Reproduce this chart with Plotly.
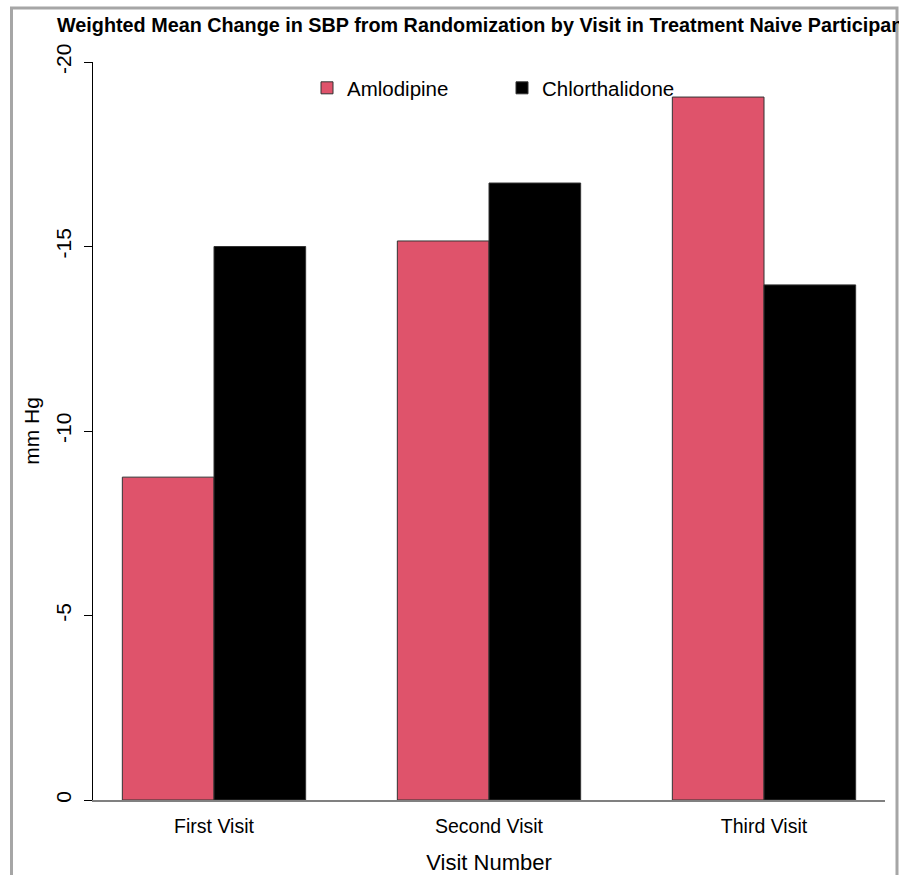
import plotly.graph_objects as go

categories = ["First Visit", "Second Visit", "Third Visit"]
amlodipine = [-8.75, -15.15, -19.05]
chlorthalidone = [-15.0, -16.72, -13.96]
y_ticks = [0, -5, -10, -15, -20]
y_tick_labels = ["0", "-5", "-10", "-15", "-20"]

FONT = "Liberation Sans, Arial, sans-serif"
W, H = 899, 875
L, R, T, B = 93, 885, 62, 800

fig = go.Figure()
fig.add_trace(go.Bar(x=categories, y=amlodipine, name="Amlodipine",
                     marker=dict(color="#DF536B", line=dict(color="#333333", width=1))))
fig.add_trace(go.Bar(x=categories, y=chlorthalidone, name="Chlorthalidone",
                     marker=dict(color="#000000", line=dict(color="#333333", width=1))))

def px_x(x):
    return (x - L) / (R - L)

def px_y(y):
    return (B - y) / (B - T)

fig.update_layout(
    width=W, height=H,
    margin=dict(l=L, r=W - R, t=T, b=H - B, pad=0, autoexpand=False),
    paper_bgcolor="white", plot_bgcolor="white",
    barmode="group", bargap=1/3, bargroupgap=0,
    font=dict(family=FONT, color="black"),
    title=dict(text="<b>Weighted Mean Change in SBP from Randomization by Visit in Treatment Naive Participants</b>",
               x=0.5, xref="paper", xanchor="center",
               y=1 - 25 / H, yref="container", yanchor="middle",
               font=dict(size=19.8, family=FONT, color="black")),
    showlegend=True,
    legend=dict(orientation="h", x=px_x(307), y=px_y(88), xanchor="left", yanchor="middle",
                font=dict(size=20.5, family=FONT, color="black"),
                entrywidth=150, entrywidthmode="pixels",
                bgcolor="rgba(0,0,0,0)", itemclick=False),
    xaxis=dict(range=[-0.44, 2.44], showgrid=False, zeroline=False, automargin=False,
               showline=True, linecolor="#808080", linewidth=1.5,
               ticks="", tickfont=dict(size=19.5, family=FONT, color="black"),
               ticklabelstandoff=8,
               title=dict(text="Visit Number", font=dict(size=22, family=FONT, color="black"), standoff=22)),
    yaxis=dict(range=[0, -20], autorange=False, showgrid=False, zeroline=False, automargin=False,
               showline=True, linecolor="black", linewidth=1,
               ticks="outside", ticklen=8, tickcolor="black", tickwidth=1,
               tickvals=y_ticks, ticktext=y_tick_labels, tickangle=-90,
               tickfont=dict(size=21, family=FONT, color="black"),
               ticklabelstandoff=5,
               title=dict(text="mm Hg", font=dict(size=21, family=FONT, color="black"), standoff=6)),
)

fig.add_shape(type="rect", xref="paper", yref="paper",
              x0=px_x(11.5), x1=px_x(897), y0=px_y(890), y1=px_y(8),
              line=dict(color="#A6A6A6", width=3), fillcolor="rgba(0,0,0,0)", layer="above")

fig.write_html("out.html", config={"displayModeBar": False},
               post_script="document.body.style.margin='0';")
